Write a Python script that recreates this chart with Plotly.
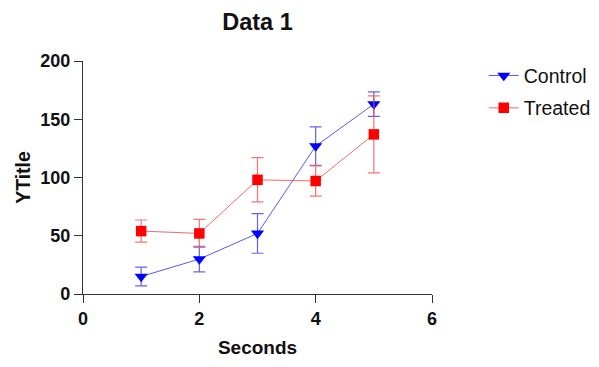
import plotly.graph_objects as go

x_vals = [1, 2, 3, 4, 5]
control = [15, 30, 52, 127, 163]
control_err = [8, 11, 17, 16.5, 10.5]
treated = [54, 52, 98, 97, 137]
treated_err = [9.5, 12, 19, 13, 33]

fig = go.Figure()
fig.add_trace(go.Scatter(
    x=x_vals, y=control, name="Control", mode="lines+markers", legendgroup="c",
    line=dict(color="rgba(60,60,255,0.85)", width=1),
    marker=dict(symbol="triangle-down", size=11.5, color="#0000ff"),
    error_y=dict(type="data", array=control_err, visible=True,
                 color="rgba(60,60,230,0.8)", thickness=1.2, width=6),
))
fig.add_trace(go.Scatter(
    x=x_vals, y=treated, name="Treated", mode="lines+markers", legendgroup="t",
    line=dict(color="rgba(240,80,80,0.85)", width=1),
    marker=dict(symbol="square", size=10.5, color="#ff0000"),
    error_y=dict(type="data", array=treated_err, visible=True,
                 color="rgba(240,80,80,0.8)", thickness=1.2, width=6),
))

FAM = "Liberation Sans, Arial"
axis_font = dict(family=FAM, size=18, color="#111", weight="bold")
fig.update_layout(
    width=599, height=367,
    margin=dict(l=75, r=174, t=53, b=81),
    paper_bgcolor="white", plot_bgcolor="white",
    title=dict(text="Data 1", xref="paper", x=0.5, xanchor="center",
               yref="container", y=1 - 14 / 367, yanchor="middle",
               font=dict(family=FAM, size=23.5, color="#111", weight="bold")),
    font=dict(family=FAM, color="#111"),
    legend=dict(x=1.145, y=1.02, xanchor="left", yanchor="top",
                font=dict(size=19.5, color="#111"),
                traceorder="grouped", tracegroupgap=4),
    xaxis=dict(range=[0, 6], tickvals=[0, 2, 4, 6], showgrid=False, zeroline=False,
               showline=True, linecolor="#333", linewidth=1.3, ticks="outside",
               ticklen=8, tickwidth=1.3, tickcolor="#333", tickfont=axis_font,
               automargin=False,
               title=dict(text="Seconds", font=dict(family=FAM, size=19, color="#111", weight="bold"), standoff=12)),
    yaxis=dict(range=[0, 200], tickvals=[0, 50, 100, 150, 200], showgrid=False, zeroline=False,
               showline=True, linecolor="#333", linewidth=1.3, ticks="outside",
               ticklen=8, tickwidth=1.3, tickcolor="#333", tickfont=axis_font,
               automargin=False,
               title=dict(text="YTitle", font=dict(family=FAM, size=19.5, color="#111", weight="bold"), standoff=4)),
)
fig.write_html("out.html")
